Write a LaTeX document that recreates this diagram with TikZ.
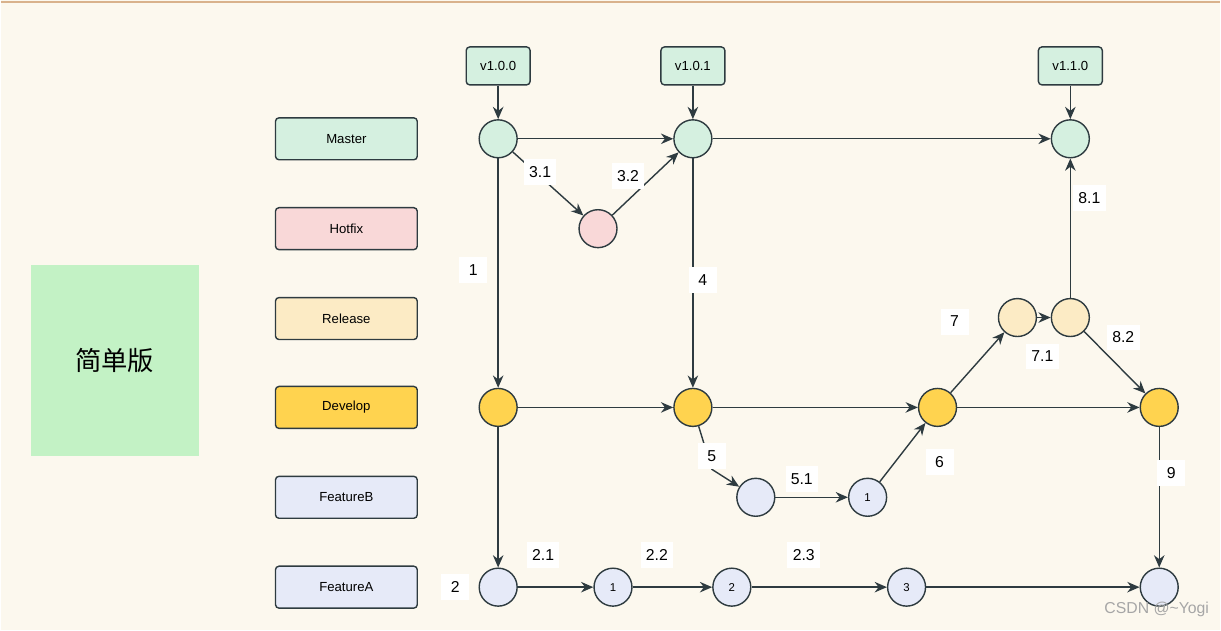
\documentclass[tikz,border=0pt]{standalone}
\usepackage{fontspec}
\setmainfont{Liberation Sans}
\newfontfamily\cjk{Noto Sans CJK SC}
\usetikzlibrary{arrows.meta}
\definecolor{bg}{HTML}{FCF8EE}
\definecolor{ln}{HTML}{2E3B40}
\definecolor{cM}{HTML}{D5F0E0}
\definecolor{cH}{HTML}{F9D8D8}
\definecolor{cR}{HTML}{FCEBC5}
\definecolor{cD}{HTML}{FFD34F}
\definecolor{cF}{HTML}{E6EAF8}
\definecolor{cG}{HTML}{C3F2C5}
\begin{document}
\begin{tikzpicture}[x=0.02cm,y=-0.02cm,
  lab/.style={draw=ln,line width=0.8pt,rounded corners=2pt,minimum width=142*0.02cm,minimum height=42*0.02cm,font=\fontsize{7.5}{9}\selectfont},
  tag/.style={draw=ln,line width=0.8pt,rounded corners=2pt,minimum width=64*0.02cm,minimum height=38*0.02cm,fill=cM,font=\fontsize{7.5}{9}\selectfont},
  c/.style={circle,draw=ln,line width=0.8pt,minimum size=38*0.02cm,inner sep=0pt,font=\fontsize{6.5}{8}\selectfont},
  el/.style={fill=white,font=\fontsize{9}{11}\selectfont,inner sep=3pt,minimum width=28*0.02cm,minimum height=26*0.02cm},
  ar/.style={draw=ln,line width=0.8pt,-{Stealth[length=7pt,width=6pt]}}]
\fill[bg] (0,0) rectangle (1221,631);
\draw[color=brown!60,line width=1pt] (0,2) -- (1221,2);
\node[fill=cG,minimum width=168*0.02cm,minimum height=192*0.02cm,font=\cjk\fontsize{15}{18}\selectfont] (g) at (114,361) {简单版};
\node[lab,fill=cM] (lM) at (346,139) {Master};
\node[lab,fill=cH] (lH) at (346,229) {Hotfix};
\node[lab,fill=cR] (lR) at (346,319) {Release};
\node[lab,fill=cD] (lD) at (346,408) {Develop};
\node[lab,fill=cF] (lB) at (346,498) {FeatureB};
\node[lab,fill=cF] (lA) at (346,588) {FeatureA};
\node[tag] (t0) at (498,66) {v1.0.0};
\node[tag] (t1) at (693,66) {v1.0.1};
\node[tag] (t2) at (1071,66) {v1.1.0};
\node[c,fill=cM] (m0) at (498,139) {};
\node[c,fill=cM] (m1) at (693,139) {};
\node[c,fill=cM] (m2) at (1071,139) {};
\node[c,fill=cH] (h0) at (598,229) {};
\node[c,fill=cR] (r0) at (1018,318) {};
\node[c,fill=cR] (r1) at (1071,318) {};
\node[c,fill=cD] (d0) at (498,408) {};
\node[c,fill=cD] (d1) at (693,408) {};
\node[c,fill=cD] (d2) at (938,408) {};
\node[c,fill=cD] (d3) at (1160,408) {};
\node[c,fill=cF] (b0) at (756,498) {};
\node[c,fill=cF] (b1) at (868,498) {1};
\node[c,fill=cF] (a0) at (498,588) {};
\node[c,fill=cF] (a1) at (613,588) {1};
\node[c,fill=cF] (a2) at (732,588) {2};
\node[c,fill=cF] (a3) at (907,588) {3};
\node[c,fill=cF] (a4) at (1160,588) {};
\draw[ar] (t0)--(m0); \draw[ar] (t1)--(m1); \draw[ar] (t2)--(m2);
\draw[ar] (m0)--(m1); \draw[ar] (m1)--(m2);
\draw[ar] (m0)--(h0); \draw[ar] (h0)--(m1);
\draw[ar] (m0)--(d0); \draw[ar] (m1)--(d1);
\draw[ar] (d0)--(d1); \draw[ar] (d1)--(d2); \draw[ar] (d2)--(d3);
\draw[ar] (d0)--(a0);
\draw[ar] (a0)--(a1); \draw[ar] (a1)--(a2); \draw[ar] (a2)--(a3); \draw[ar] (a3)--(a4);
\draw[ar] (d1)--(712,470)--(b0); \draw[ar] (b0)--(b1);
\draw[ar] (b1)--(d2);
\draw[ar] (d2)--(r0); \draw[ar] (r0)--(r1);
\draw[ar] (r1)--(m2); \draw[ar] (r1)--(d3);
\draw[ar] (d3)--(a4);
\node[el] (l31) at (540,172) {3.1};
\node[el] (l32) at (628,176) {3.2};
\node[el] (l1) at (473,270) {1};
\node[el] (l4) at (703,280) {4};
\node[el] (l5) at (712,457) {5};
\node[el] (l51) at (802,480) {5.1};
\node[el] (l6) at (940,463) {6};
\node[el] (l7) at (955,322) {7};
\node[el] (l71) at (1043,357) {7.1};
\node[el] (l81) at (1090,198) {8.1};
\node[el] (l82) at (1124,338) {8.2};
\node[el] (l9) at (1172,474) {9};
\node[el] (l2) at (455,588) {2};
\node[el] (l21) at (543,556) {2.1};
\node[el] (l22) at (657,556) {2.2};
\node[el] (l23) at (804,556) {2.3};
\node[text=gray!70,font=\fontsize{9}{11}\selectfont,anchor=east] (wm) at (1216,610) {CSDN @\textasciitilde Yogi};
\end{tikzpicture}
\end{document}
